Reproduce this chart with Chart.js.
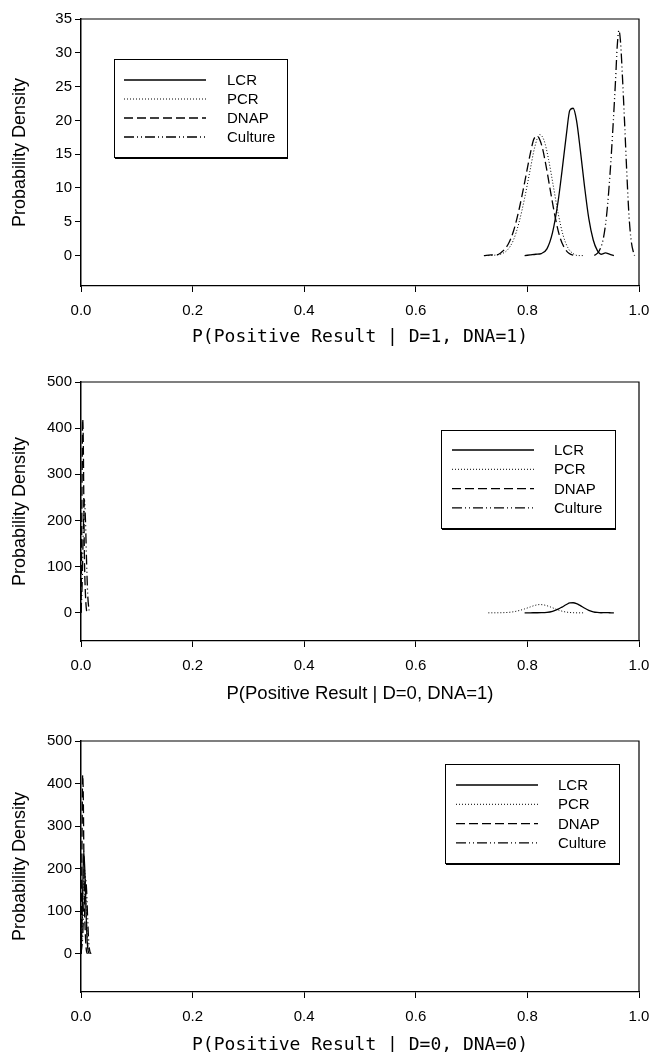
<!DOCTYPE html>
<html>
<head>
<meta charset="utf-8">
<script src="https://cdn.jsdelivr.net/npm/chart.js@4.4.0/dist/chart.umd.min.js"></script>
<style>
  body { margin: 0; background: #fff; }
  .panel { position: absolute; left: 0; }
</style>
</head>
<body>
<div class="panel" style="top:0px"><canvas id="c1" width="650" height="350"></canvas></div>
<div class="panel" style="top:350px"><canvas id="c2" width="650" height="355"></canvas></div>
<div class="panel" style="top:705px"><canvas id="c3" width="650" height="347"></canvas></div>
<script>
// --- data ---
const seriesNames = ['LCR', 'PCR', 'DNAP', 'Culture'];
const xTicks = [0, 0.2, 0.4, 0.6, 0.8, 1.0];
const yTicks1 = [0, 5, 10, 15, 20, 25, 30, 35];
const yTicks23 = [0, 100, 200, 300, 400, 500];

// top panel: D=1, DNA=1
const lcrX1 = [0.795, 0.805, 0.815, 0.825, 0.835, 0.845, 0.855, 0.862, 0.870, 0.876, 0.882, 0.888, 0.895, 0.902, 0.910, 0.918, 0.925, 0.932, 0.940, 0.947, 0.955];
const lcrY1 = [0.0, 0.1, 0.2, 0.3, 1.0, 3.4, 8.0, 12.5, 18.0, 21.5, 21.8, 20.0, 15.5, 10.5, 5.5, 2.3, 0.8, 0.2, 0.4, 0.2, 0.0];
const pcrX1 = [0.730, 0.745, 0.755, 0.765, 0.775, 0.785, 0.795, 0.805, 0.813, 0.822, 0.830, 0.838, 0.846, 0.855, 0.864, 0.873, 0.882, 0.891, 0.900];
const pcrY1 = [0.0, 0.1, 0.3, 0.9, 2.3, 4.9, 8.5, 12.7, 16.0, 17.9, 17.0, 14.2, 10.5, 6.3, 3.0, 1.1, 0.3, 0.0, 0.0];
const dnapX1 = [0.722, 0.735, 0.745, 0.755, 0.765, 0.775, 0.785, 0.795, 0.805, 0.812, 0.818, 0.826, 0.834, 0.842, 0.850, 0.858, 0.866, 0.875, 0.885];
const dnapY1 = [0.0, 0.1, 0.1, 0.6, 1.6, 3.6, 6.8, 10.8, 15.0, 17.3, 17.6, 16.2, 13.0, 9.2, 5.6, 2.8, 1.2, 0.3, 0.0];
const cultX1 = [0.920, 0.928, 0.936, 0.942, 0.948, 0.953, 0.958, 0.961, 0.964, 0.967, 0.970, 0.974, 0.978, 0.982, 0.986, 0.990, 0.992];
const cultY1 = [0.0, 0.6, 2.5, 6.0, 12.0, 18.5, 26.0, 31.0, 33.3, 31.5, 27.0, 20.0, 12.5, 6.0, 2.2, 0.5, 0.0];

// middle panel: D=0, DNA=1
const lcrX2 = lcrX1;
const lcrY2 = lcrY1;
const pcrX2 = pcrX1;
const pcrY2 = pcrY1;
const dnapX2 = [0, 0.001, 0.002, 0.003, 0.004, 0.005, 0.006, 0.008, 0.010, 0.012];
const dnapY2 = [0, 120, 300, 420, 380, 250, 130, 40, 5, 0];
const cultX2 = [0, 0.002, 0.004, 0.006, 0.008, 0.010, 0.012, 0.014, 0.016];
const cultY2 = [0, 60, 170, 245, 200, 110, 40, 10, 0];

// bottom panel: D=0, DNA=0
const lcrX3 = [0, 0.002, 0.004, 0.005, 0.007, 0.009, 0.011, 0.013, 0.015];
const lcrY3 = [0, 80, 210, 240, 190, 100, 30, 5, 0];
const pcrX3 = [0, 0.002, 0.004, 0.006, 0.008, 0.010, 0.012, 0.014];
const pcrY3 = [0, 50, 150, 200, 170, 90, 30, 0];
const dnapX3 = dnapX2;
const dnapY3 = dnapY2;
const cultX3 = [0, 0.003, 0.005, 0.008, 0.010, 0.012, 0.014, 0.016, 0.018];
const cultY3 = [0, 40, 110, 180, 150, 80, 25, 5, 0];

// --- styles ---
const lineStyles = [
  { borderDash: [], borderWidth: 1.3 },
  { borderDash: [1, 2], borderWidth: 1 },
  { borderDash: [9, 4], borderWidth: 1.3 },
  { borderDash: [10, 3, 1, 3, 1, 3], borderWidth: 1.3 }
];
const sansFamily = '"Liberation Sans", Arial, sans-serif';

function pts(xs, ys) { return xs.map((x, i) => ({ x: x, y: ys[i] })); }

function makeSets(list) {
  return list.map((p, i) => Object.assign({
    label: seriesNames[i],
    data: pts(p[0], p[1]),
    showLine: true,
    pointRadius: 0,
    borderColor: '#000',
    backgroundColor: '#000',
    cubicInterpolationMode: 'monotone',
    fill: false
  }, lineStyles[i]));
}

// frame (top + right side of the box)
const framePlugin = {
  id: 'frame',
  afterDraw(chart) {
    const a = chart.chartArea, ctx = chart.ctx;
    ctx.save();
    ctx.strokeStyle = '#000';
    ctx.lineWidth = 1.2;
    ctx.beginPath();
    ctx.moveTo(a.left, a.top); ctx.lineTo(a.right, a.top); ctx.lineTo(a.right, a.bottom);
    ctx.stroke();
    ctx.restore();
  }
};

// boxed legend like the original
const boxLegendPlugin = {
  id: 'boxLegend',
  afterDraw(chart, args, o) {
    if (!o || !o.box) return;
    const ctx = chart.ctx;
    ctx.save();
    ctx.strokeStyle = '#000';
    ctx.lineWidth = 1;
    ctx.strokeRect(o.box[0] + 0.5, o.box[1] + 0.5, o.box[2], o.box[3]);
    ctx.beginPath();
    ctx.moveTo(o.box[0] + 1, o.box[1] + o.box[3] + 1.5);
    ctx.lineTo(o.box[0] + o.box[2] + 1, o.box[1] + o.box[3] + 1.5);
    ctx.stroke();
    ctx.font = '15px ' + sansFamily;
    ctx.fillStyle = '#000';
    ctx.textBaseline = 'middle';
    chart.data.datasets.forEach((d, i) => {
      const y = o.row0 + i * o.step;
      ctx.beginPath();
      ctx.setLineDash(d.borderDash || []);
      ctx.lineWidth = d.borderWidth;
      ctx.moveTo(o.line[0], y); ctx.lineTo(o.line[1], y);
      ctx.stroke();
      ctx.setLineDash([]);
      ctx.fillText(d.label, o.textX, y + 1);
    });
    ctx.restore();
  }
};

function makeChart(id, sets, cfg) {
  return new Chart(document.getElementById(id), {
    type: 'scatter',
    data: { datasets: sets },
    plugins: [framePlugin, boxLegendPlugin],
    options: {
      responsive: false,
      animation: false,
      layout: { padding: { top: cfg.padTop, right: 11, left: 0, bottom: 0 } },
      plugins: {
        legend: { display: false },
        tooltip: { enabled: false },
        boxLegend: cfg.legend
      },
      scales: {
        x: {
          type: 'linear', min: 0, max: 1,
          afterFit: s => { s.height = cfg.xHeight; s.paddingRight = 0; s.paddingLeft = 0; },
          afterBuildTicks: s => { s.ticks = xTicks.map(v => ({ value: v })); },
          ticks: {
            color: '#000', padding: 10, maxRotation: 0,
            font: { family: sansFamily, size: 15 },
            callback: v => Number(v).toFixed(1)
          },
          grid: { drawOnChartArea: false, drawTicks: true, tickLength: 6, color: '#000', lineWidth: 1 },
          border: { display: true, color: '#000', width: 1.3 },
          title: {
            display: true, text: cfg.xTitle, color: '#000',
            font: cfg.xFont,
            padding: { top: 0, bottom: cfg.titlePad }
          }
        },
        y: {
          type: 'linear', min: cfg.yMin, max: cfg.yMax,
          afterFit: s => { s.width = 81; },
          afterBuildTicks: s => { s.ticks = cfg.yTicks.map(v => ({ value: v })); },
          ticks: {
            color: '#000', padding: 3,
            font: { family: sansFamily, size: 15 }
          },
          grid: { drawOnChartArea: false, drawTicks: true, tickLength: 6, color: '#000', lineWidth: 1 },
          border: { display: true, color: '#000', width: 1.5 },
          title: {
            display: true, text: 'Probability Density', color: '#000',
            font: { family: sansFamily, size: 18, lineHeight: 1.2 },
            padding: { top: 9, bottom: 0 }
          }
        }
      }
    }
  });
}

const monoFont = { family: '"DejaVu Sans Mono", monospace', size: 18, lineHeight: 1 };
const sansFont = { family: sansFamily, size: 18.5, lineHeight: 1 };

makeChart('c1', makeSets([[lcrX1, lcrY1], [pcrX1, pcrY1], [dnapX1, dnapY1], [cultX1, cultY1]]), {
  padTop: 19, xHeight: 64, yMin: -4.5, yMax: 35, yTicks: yTicks1,
  xTitle: 'P(Positive Result | D=1, DNA=1)', xFont: monoFont, titlePad: 4,
  legend: { box: [114, 59, 173, 98], line: [124, 206], textX: 227, row0: 80, step: 19 }
});
makeChart('c2', makeSets([[lcrX2, lcrY2], [pcrX2, pcrY2], [dnapX2, dnapY2], [cultX2, cultY2]]), {
  padTop: 32, xHeight: 64, yMin: -61, yMax: 500, yTicks: yTicks23,
  xTitle: 'P(Positive Result | D=0, DNA=1)', xFont: sansFont, titlePad: 2,
  legend: { box: [441, 80, 174, 98], line: [452, 534], textX: 554, row0: 100, step: 19.3 }
});
makeChart('c3', makeSets([[lcrX3, lcrY3], [pcrX3, pcrY3], [dnapX3, dnapY3], [cultX3, cultY3]]), {
  padTop: 36, xHeight: 60, yMin: -90, yMax: 500, yTicks: yTicks23,
  xTitle: 'P(Positive Result | D=0, DNA=0)', xFont: monoFont, titlePad: -2,
  legend: { box: [445, 59, 174, 99], line: [456, 538], textX: 558, row0: 80, step: 19.3 }
});
</script>
</body>
</html>
